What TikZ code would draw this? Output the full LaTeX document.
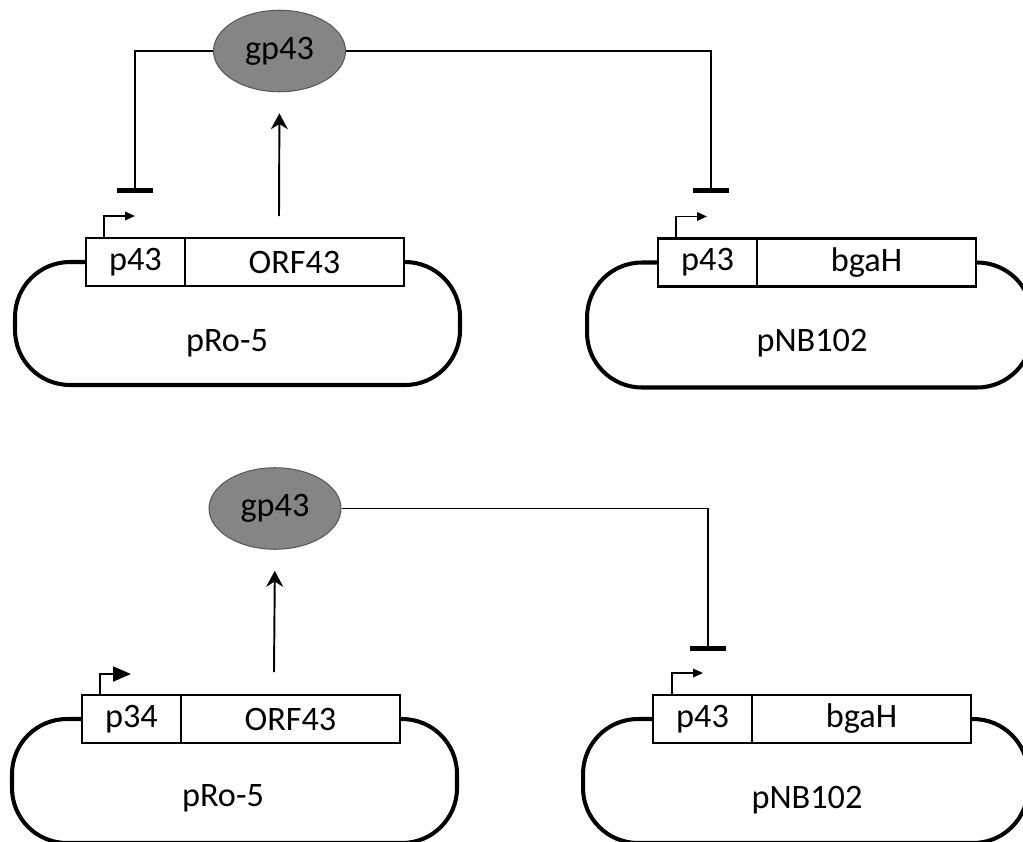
\documentclass[tikz,border=0pt]{standalone}
\usepackage{fontspec}
\setmainfont{Carlito}
\usetikzlibrary{positioning,arrows.meta,shapes.geometric}

\begin{document}
\begin{tikzpicture}[>=Stealth,x=0.02cm,y=-0.02cm,
	font=\fontsize{19.5}{23}\selectfont,
	prom/.style={draw,line width=1.4pt,fill=white,minimum width=1.98cm,minimum height=0.96cm,inner sep=0pt,outer sep=0pt},
	gene/.style={prom,minimum width=4.38cm},
	prot/.style={ellipse,draw=black!65,line width=0.6pt,fill=black!48,minimum width=2.64cm,minimum height=1.63cm,inner sep=0pt},
	plasmid/.style={line width=2.3pt,rounded corners=1.1cm},
	link/.style={line width=1.1pt},
	act/.style={link,-{Stealth[length=0.32cm,width=0.34cm]},shorten >=0.42cm},
	repress/.style={link,-{Bar[width=0.72cm,line width=2.8pt]}},
	start/.style={link,-{Triangle[length=0.2cm,width=0.17cm]}},
	bigstart/.style={link,-{Triangle[length=0.36cm,width=0.3cm]}}]
		\useasboundingbox (0,0) rectangle (1023,841);
		\clip (0,0) rectangle (1023,841);
		% upper row
		\node[prot] (gpA) at (279.5,51) {gp43};
		\node[prom] (pA) at (135.5,262) {p43};
		\node[gene,right=0pt of pA] (gA) {ORF43};
		\node[prom] (pB) at (707.5,262.5) {p43};
		\node[gene,right=0pt of pB] (gB) {bgaH};
		\node (lA) at (227,343) {pRo-5};
		\node (lB) at (812,343) {pNB102};
		\coordinate (oA) at (279,216);
		\coordinate (bA) at (135,193);
		\coordinate (bB) at (711,193);
		\draw[plasmid] (pA.west) -- ++(-71,0) -- ++(0,123) -- ++(445,0) -- ++(0,-123) -- (gA.east);
		\draw[plasmid] (pB.west) -- ++(-71,0) -- ++(0,125) -- ++(445,0) -- ++(0,-125) -- (gB.east);
		\draw[start] ([xshift=0.36cm]pA.north west) |- ++(31,-22);
		\draw[start] ([xshift=0.36cm]pB.north west) |- ++(31,-22);
		\draw[act] (oA) -- (gpA.south);
		\draw[repress] (gpA.west) -| (bA);
		\draw[repress] (gpA.east) -| (bB);
		% lower row
		\node[prot] (gpC) at (275,508.5) {gp43};
		\node[prom] (pC) at (131.5,719) {p34};
		\node[gene,right=0pt of pC] (gC) {ORF43};
		\node[prom] (pD) at (702.5,719) {p43};
		\node[gene,right=0pt of pD] (gD) {bgaH};
		\node (lC) at (223,798) {pRo-5};
		\node (lD) at (807,800) {pNB102};
		\coordinate (oC) at (274,672);
		\coordinate (bD) at (708,651);
		\draw[plasmid] (pC.west) -- ++(-70,0) -- ++(0,124) -- ++(445,0) -- ++(0,-124) -- (gC.east);
		\draw[plasmid] (pD.west) -- ++(-70,0) -- ++(0,124) -- ++(445,0) -- ++(0,-124) -- (gD.east);
		\draw[bigstart] ([xshift=0.36cm]pC.north west) |- ++(31,-21);
		\draw[start] ([xshift=0.38cm]pD.north west) |- ++(31,-22);
		\draw[act] (oC) -- (gpC.south);
		\draw[repress] (gpC.east) -| (bD);
\end{tikzpicture}
\end{document}
